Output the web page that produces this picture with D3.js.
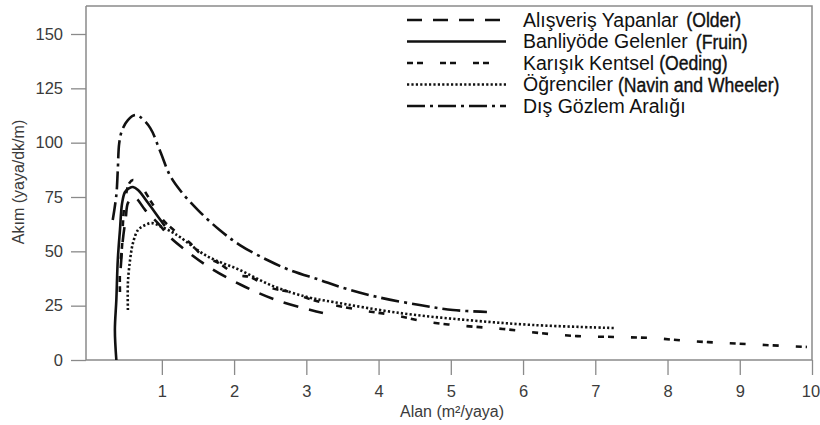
<!DOCTYPE html>
<html>
<head>
<meta charset="utf-8">
<script src="https://cdn.jsdelivr.net/npm/d3@7"></script>
<style>
  body { margin: 0; background: #fff; }
  svg { display: block; font-family: "Liberation Sans", Arial, sans-serif; }
</style>
</head>
<body>
<div id="wrapper"></div>
<script>
// data: area (m2/pedestrian) vs flow (ped/min/m)
const seriesLabels = ["Alışveriş Yapanlar", "Banliyöde Gelenler", "Karışık Kentsel", "Öğrenciler", "Dış Gözlem Aralığı"];
const seriesSources = ["(Older)", "(Fruin)", "(Oeding)", "(Navin and Wheeler)", ""];

const olderArea = [0.43, 0.46, 0.50, 0.53, 0.59, 0.64, 0.77, 0.97, 1.11, 1.36, 1.65, 2.10, 2.58, 3.06, 3.23];
const olderFlow = [42.3, 55.2, 65.3, 72.2, 74.5, 74.5, 69.0, 62.1, 56.6, 49.7, 42.8, 34.5, 27.6, 23.0, 21.6];

const fruinArea = [0.37, 0.35, 0.37, 0.39, 0.42, 0.45, 0.49, 0.55, 0.60, 0.67, 0.81, 0.95, 1.04];
const fruinFlow = [0, 13.8, 27.6, 46.0, 59.8, 72.2, 77.3, 79.1, 79.6, 78.2, 72.2, 65.8, 61.7];

const oedingArea = [0.42, 0.42, 0.45, 0.46, 0.49, 0.55, 0.60, 0.70, 0.88, 1.04, 1.22, 1.39, 1.60, 1.76, 2.04, 2.22, 2.52, 2.77, 3.09, 3.74, 4.20, 4.68, 5.22, 5.72, 6.23, 6.75, 7.27, 7.78, 8.31, 8.82, 9.35, 9.93];
const oedingFlow = [31.3, 41.4, 52.9, 62.1, 73.6, 81.4, 82.8, 80.5, 71.3, 63.5, 58.4, 53.8, 46.9, 45.1, 39.1, 38.2, 33.1, 31.3, 27.6, 23.0, 20.7, 17.5, 15.6, 14.3, 12.4, 11.0, 10.6, 10.1, 8.7, 7.8, 6.9, 6.0];

const navinArea = [0.53, 0.53, 0.56, 0.60, 0.67, 0.77, 0.86, 0.97, 1.14, 1.25, 1.62, 2.08, 2.54, 3.01, 3.37, 4.30, 5.22, 6.14, 7.27];
const navinFlow = [23.0, 35.4, 46.0, 53.8, 59.8, 62.1, 63.0, 61.7, 58.9, 56.6, 47.9, 41.4, 34.0, 29.0, 26.7, 21.6, 18.4, 16.1, 14.7];

const outerArea = [0.32, 0.37, 0.39, 0.41, 0.45, 0.53, 0.63, 0.70, 0.84, 0.97, 1.11, 1.25, 1.50, 1.80, 2.08, 2.46, 2.77, 3.19, 3.47, 3.98, 4.57, 5.03, 5.50];
const outerFlow = [64.4, 75.9, 87.4, 99.8, 105.8, 110.4, 112.7, 111.8, 106.7, 96.6, 85.1, 78.2, 69.0, 59.8, 52.9, 46.0, 41.4, 36.8, 33.6, 29.0, 25.3, 23.0, 22.1];

const xTicks = [1, 2, 3, 4, 5, 6, 7, 8, 9, 10];
const yTicks = [0, 25, 50, 75, 100, 125, 150];

const toPoints = (xs, ys) => xs.map((x, i) => ({ x: x, y: ys[i] }));
const series = [
  { points: toPoints(olderArea, olderFlow), dash: "15,11" },
  { points: toPoints(fruinArea, fruinFlow), dash: null },
  { points: toPoints(oedingArea, oedingFlow), dash: "6,4,6,17" },
  { points: toPoints(navinArea, navinFlow), dash: "2.2,2.2" },
  { points: toPoints(outerArea, outerFlow), dash: "18,5,3,5" },
];

// dimensions
const width = 820;
const height = 425;
const plot = { left: 86, right: 812, top: 6, bottom: 360 };

const svg = d3.select("#wrapper")
  .append("svg")
    .attr("width", width)
    .attr("height", height);

// scales
const xScale = d3.scaleLinear()
  .domain([-0.05, 10])
  .range([plot.left, plot.right]);

const yScale = d3.scaleLinear()
  .domain([0, 150])
  .range([plot.bottom, 34]);

const axisColor = "#8a8a8a";
const labelColor = "#3b3b3b";

// frame (top and right)
svg.append("path")
    .attr("d", `M${plot.left},${plot.top}H${plot.right}V${plot.bottom}`)
    .attr("fill", "none")
    .attr("stroke", axisColor)
    .attr("stroke-width", 1.5);

// axes
const xAxis = svg.append("g")
    .attr("transform", `translate(0,${plot.bottom})`)
    .call(d3.axisBottom(xScale).tickValues(xTicks).tickSize(15).tickSizeOuter(0).tickPadding(10));

const yAxis = svg.append("g")
    .attr("transform", `translate(${plot.left},0)`)
    .call(d3.axisLeft(yScale).tickValues(yTicks).tickSize(15).tickSizeOuter(0).tickPadding(8));

[xAxis, yAxis].forEach(ax => {
  ax.select(".domain").attr("stroke", axisColor).attr("stroke-width", 1.5);
  ax.selectAll(".tick line").attr("stroke", axisColor).attr("stroke-width", 1.3);
  ax.selectAll(".tick text")
      .attr("fill", labelColor)
      .style("font-size", "16.5px")
      .style("font-family", "'Liberation Sans', Arial, sans-serif");
});
// last label sits at the right edge, like the original
xAxis.selectAll(".tick text").filter(d => d === 10).attr("dx", -1.5);

// keep domain lines spanning the whole frame
xAxis.select(".domain").attr("d", `M${plot.left},0H${plot.right}`);
yAxis.select(".domain").attr("d", `M0,${plot.top}V${plot.bottom}`);

// axis titles
svg.append("text")
    .attr("x", 452)
    .attr("y", 417)
    .attr("text-anchor", "middle")
    .attr("fill", labelColor)
    .style("font-size", "16px")
    .text("Alan (m²/yaya)");

svg.append("text")
    .attr("transform", "translate(24,182) rotate(-90)")
    .attr("text-anchor", "middle")
    .attr("fill", labelColor)
    .style("font-size", "16px")
    .text("Akım (yaya/dk/m)");

// curves
const lineGenerator = d3.line()
  .x(d => xScale(d.x))
  .y(d => yScale(d.y))
  .curve(d3.curveCatmullRom.alpha(0.5));

svg.append("g")
  .selectAll("path")
  .data(series)
  .join("path")
    .attr("d", d => lineGenerator(d.points))
    .attr("fill", "none")
    .attr("stroke", "#111")
    .attr("stroke-width", 2.6)
    .attr("stroke-dasharray", d => d.dash);

// legend
const legendRowY = d3.scaleLinear().domain([0, 4]).range([20, 106]);
const legend = svg.append("g");

series.forEach((s, i) => {
  const y = legendRowY(i);
  legend.append("line")
      .attr("x1", 407)
      .attr("x2", 506)
      .attr("y1", y)
      .attr("y2", y)
      .attr("stroke", "#111")
      .attr("stroke-width", 2.6)
      .attr("stroke-dasharray", s.dash);

  const main = legend.append("text")
      .attr("x", 523)
      .attr("y", y)
      .attr("dy", "0.35em")
      .attr("fill", "#111")
      .style("font-size", "19.5px")
      .text(seriesLabels[i]);

  if (seriesSources[i]) {
    const gap = i < 2 ? 8 : 5;
    const src = legend.append("text")
        .attr("x", 523 + main.node().getComputedTextLength() + gap)
        .attr("y", y)
        .attr("dy", "0.35em")
        .attr("fill", "#111")
        .attr("stroke", "#111")
        .attr("stroke-width", 0.4)
        .style("font-size", "20px")
        .text(seriesSources[i]);
    const natural = src.node().getComputedTextLength();
    src.attr("textLength", natural * 0.88)
        .attr("lengthAdjust", "spacingAndGlyphs");
  }
});
</script>
</body>
</html>
